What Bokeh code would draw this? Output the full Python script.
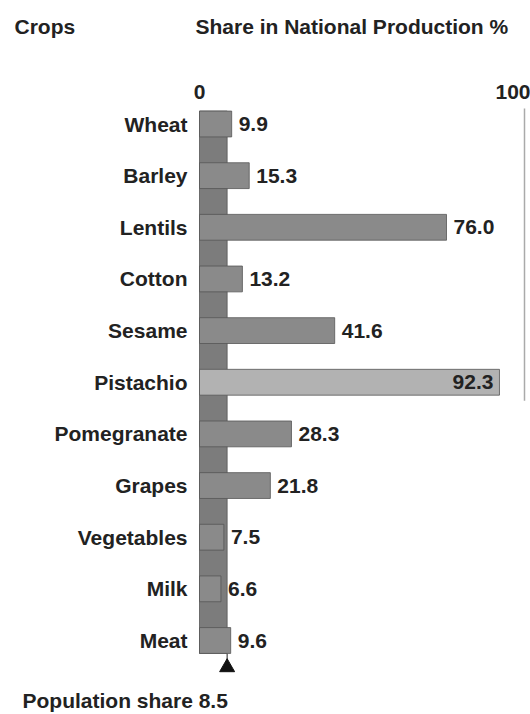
from bokeh.plotting import figure
from bokeh.models import Range1d, ColumnDataSource, Label
from bokeh.core.properties import value
from bokeh.embed import file_html
from bokeh.resources import INLINE

crops = ["Wheat", "Barley", "Lentils", "Cotton", "Sesame", "Pistachio",
         "Pomegranate", "Grapes", "Vegetables", "Milk", "Meat"]
shares = [9.9, 15.3, 76.0, 13.2, 41.6, 92.3, 28.3, 21.8, 7.5, 6.6, 9.6]
population_share = 8.5
axis_ticks = [0, 100]

W, H = 530, 714
FONT_NAME = "Liberation Sans"
FONT = value(FONT_NAME)
FS = "21px"
TXT = "#222222"
BAR = "#8a8a8a"

rows = list(range(len(crops)))
p = figure(width=W, height=H, output_backend="svg", toolbar_location=None,
           x_range=Range1d(-199 / 3.25, (W - 199) / 3.25),
           y_range=Range1d((H - 123.5) / 51.65, -123.5 / 51.65),
           min_border=0, outline_line_color=None, background_fill_color="white",
           border_fill_color="white")
p.axis.visible = False
p.grid.visible = False

# reference line at 100
p.segment(x0=[axis_ticks[1]], x1=[axis_ticks[1]], y0=[-0.30], y1=[5.36],
          line_color="#aaaaaa", line_width=1.5)

# population share band
p.quad(left=[0], right=[population_share], top=[-0.25], bottom=[10.25],
       fill_color="#7c7c7c", line_color="#555555", line_width=0.8)
p.segment(x0=[population_share], x1=[population_share], y0=[10.25], y1=[10.42],
          line_color="#222222", line_width=1)
p.scatter(x=[population_share], y=[10.52], marker="triangle", size=15,
          fill_color="#111111", line_color="#111111")

src = ColumnDataSource(dict(crop=crops, share=shares, row=rows))
src.data["color"] = ["#b2b2b2" if s > 90 else BAR for s in shares]
p.hbar(y="row", left=0, right="share", height=0.5, source=src,
       fill_color="color", line_color="#555555", line_width=0.8)

# category labels
p.text(x=0, y="row", text="crop", source=src, x_offset=-12,
       text_align="right", text_baseline="middle", text_font=FONT,
       text_font_size=FS, text_font_style="bold", text_color=TXT)

# value labels
out_idx = [i for i, s in enumerate(shares) if s < 90]
in_idx = [i for i, s in enumerate(shares) if s >= 90]
outside = ColumnDataSource(dict(share=[shares[i] for i in out_idx], row=out_idx,
                                lab=[f"{shares[i]:.1f}" for i in out_idx]))
inside = ColumnDataSource(dict(share=[shares[i] for i in in_idx], row=in_idx,
                               lab=[f"{shares[i]:.1f}" for i in in_idx]))
p.text(x="share", y="row", text="lab", source=outside, x_offset=7,
       text_align="left", text_baseline="middle", text_font=FONT,
       text_font_size=FS, text_font_style="bold", text_color=TXT)
p.text(x="share", y="row", text="lab", source=inside, x_offset=-6,
       text_align="right", text_baseline="middle", text_font=FONT,
       text_font_size=FS, text_font_style="bold", text_color=TXT)

# axis end labels
p.text(x=[axis_ticks[0]], y=[-0.61], text=[str(axis_ticks[0])], text_align="center",
       text_baseline="middle", text_font=FONT, text_font_size=FS,
       text_font_style="bold", text_color=TXT)
p.text(x=[axis_ticks[1]], y=[-0.61], text=[str(axis_ticks[1])], text_align="right",
       x_offset=6, text_baseline="middle", text_font=FONT, text_font_size=FS,
       text_font_style="bold", text_color=TXT)

# headers
for x, y, t in [(14, H - 25.5, "Crops"),
                (195, H - 25.5, "Share in National Production %"),
                (22, H - 700, f"Population share {population_share}")]:
    p.add_layout(Label(x=x, y=y, x_units="screen", y_units="screen", text=t,
                       text_font=FONT_NAME, text_font_size=FS, text_font_style="bold",
                       text_color=TXT, text_baseline="middle"))

open("out.html", "w").write(file_html(p, INLINE))
